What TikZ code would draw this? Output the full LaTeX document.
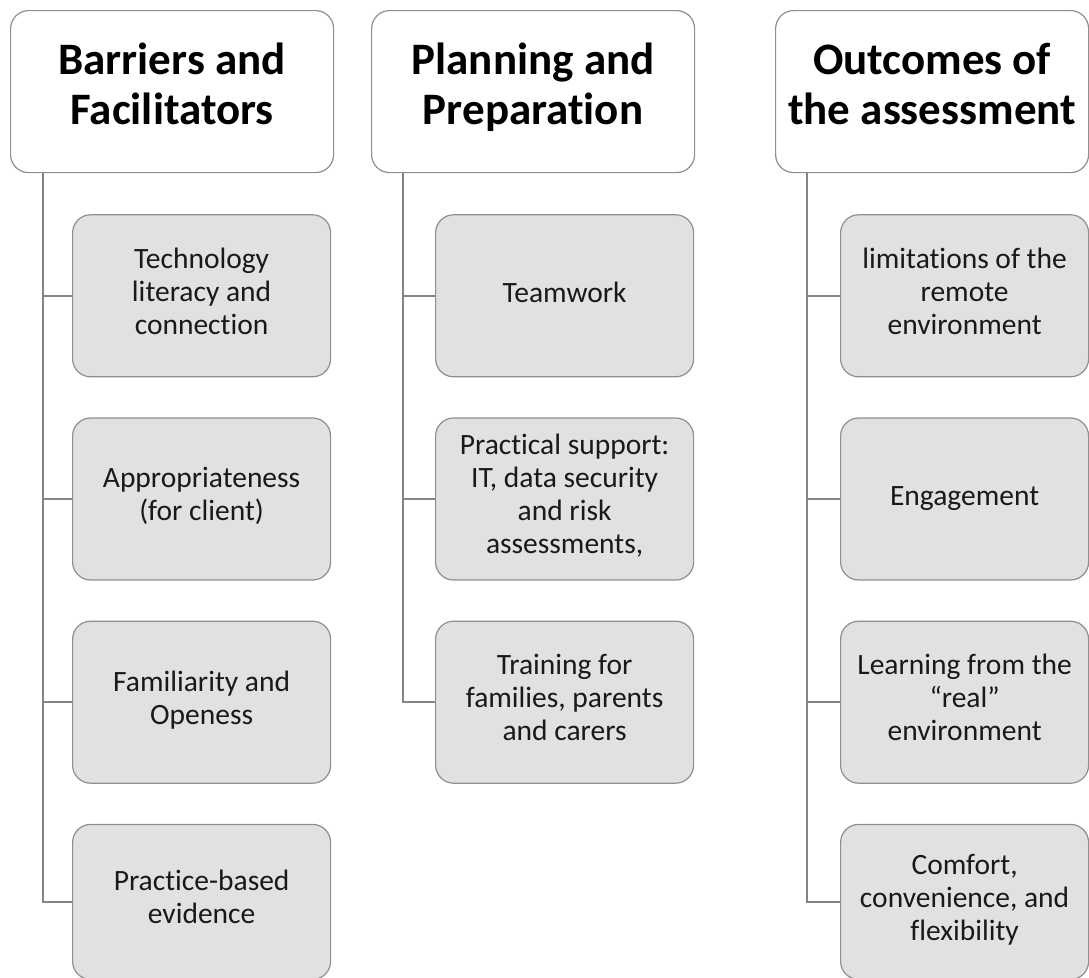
\documentclass[tikz,border=0pt]{standalone}
\usepackage{fontspec}
\setmainfont{Carlito}[Ligatures={TeX,NoCommon,NoContextual}]
\usepackage{tikz}
\usetikzlibrary{positioning}

\definecolor{boxline}{HTML}{8F8F8F}
\definecolor{boxfill}{HTML}{E1E1E1}
\definecolor{treeline}{HTML}{858585}

\begin{document}
\begin{tikzpicture}[x=1pt, y=-1pt, node distance=40pt,
    head/.style={draw=boxline, line width=1.2pt, fill=white, rounded corners=18pt, minimum width=323pt, minimum height=162pt, align=center, inner sep=0pt, text=black, font=\fontsize{45}{50}\selectfont\bfseries, execute at begin node=\strut, execute at end node=\strut},
    item/.style={draw=boxline, line width=1.2pt, fill=boxfill, rounded corners=18pt, minimum width=258pt, minimum height=162pt, align=center, inner sep=0pt, text=black!90, font=\fontsize{29.5}{33}\selectfont, execute at begin node=\strut, execute at end node=\strut},
    branch/.style={draw=treeline, line width=1.6pt}]
    \useasboundingbox (0,0) rectangle (1089,977);

    % Column headers
    \node[head, anchor=north west] (bf) at (10,10) {Barriers and\\Facilitators};
    \node[head, anchor=north west] (pp) at (371,10) {Planning and\\Preparation};
    \node[head, anchor=north west, minimum width=313pt] (oa) at (775,10) {Outcomes of\\the assessment};

    % Barriers and facilitators (four items, stacked)
    \node[item, below right=41pt and 62pt of bf.south west] (bf1) {Technology\\literacy and\\connection};
    \node[item, below=of bf1] (bf2) {Appropriateness\\(for client)};
    \node[item, below=of bf2] (bf3) {Familiarity and\\Openess};
    \node[item, below=of bf3, minimum height=155pt] (bf4) {Practice-based\\evidence};

    % Planning and preparation (three items)
    \node[item, below right=41pt and 64pt of pp.south west] (pp1) {Teamwork};
    \node[item, below=of pp1] (pp2) {Practical support:\\IT, data security\\and risk\\assessments,};
    \node[item, below=of pp2] (pp3) {Training for\\families, parents\\and carers};

    % Outcomes (four items, a bit narrower)
    \node[item, below right=41pt and 65pt of oa.south west, minimum width=248pt] (oa1) {limitations of the\\remote\\environment};
    \node[item, below=of oa1, minimum width=248pt] (oa2) {Engagement};
    \node[item, below=of oa2, minimum width=248pt] (oa3) {Learning from the\\“real”\\environment};
    \node[item, below=of oa3, minimum width=248pt, minimum height=155pt] (oa4) {Comfort,\\convenience, and\\flexibility};

    % Trunk start points under each header
    \coordinate (bft) at ([xshift=33pt]bf.south west);
    \coordinate (ppt) at ([xshift=32pt]pp.south west);
    \coordinate (oat) at ([xshift=32pt]oa.south west);

    % Tree lines from headers to items
    \draw[branch] (bft) |- (bf1.west);
    \draw[branch] (bft) |- (bf2.west);
    \draw[branch] (bft) |- (bf3.west);
    \draw[branch] (bft) |- (bf4.west);

    \draw[branch] (ppt) |- (pp1.west);
    \draw[branch] (ppt) |- (pp2.west);
    \draw[branch] (ppt) |- (pp3.west);

    \draw[branch] (oat) |- (oa1.west);
    \draw[branch] (oat) |- (oa2.west);
    \draw[branch] (oat) |- (oa3.west);
    \draw[branch] (oat) |- (oa4.west);
\end{tikzpicture}
\end{document}
